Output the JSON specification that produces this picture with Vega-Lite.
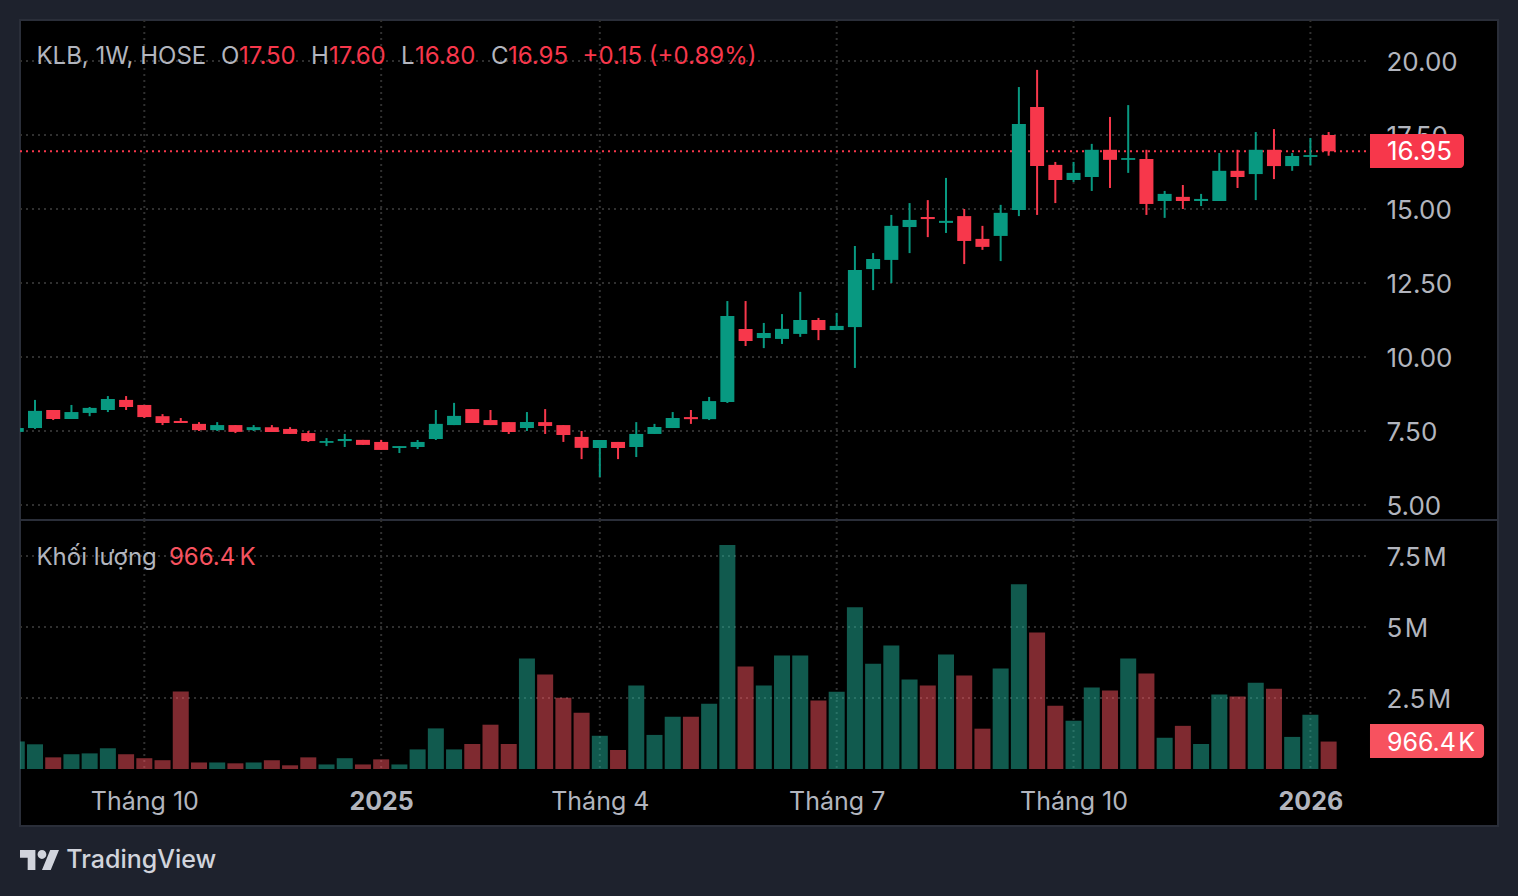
{
  "$schema": "https://vega.github.io/schema/vega-lite/v6.json",
  "description": "KLB, 1W, HOSE: nen tuan va khoi luong",
  "background": "#1e222d",
  "padding": {"left": 18, "top": 18, "right": 19, "bottom": 22},
  "config": {
    "font": "Inter",
    "view": {"fill": "#000000", "stroke": "#2a2e39", "strokeWidth": 2},
    "axis": {"title": null, "domain": false, "ticks": false, "grid": false, "labelColor": "#b2b5be", "labelFontSize": 26, "labelBound": false, "labelFlush": false, "labelOverlap": false}
  },
  "datasets": {
    "bars": [
      {"i":-1,"o":7.47,"h":7.60,"l":7.47,"c":7.60,"v":970000,"dir":"up"},
      {"i":0,"o":7.60,"h":8.55,"l":7.57,"c":8.18,"v":870000,"dir":"up"},
      {"i":1,"o":8.21,"h":8.21,"l":7.87,"c":7.905,"v":410000,"dir":"down"},
      {"i":2,"o":7.905,"h":8.38,"l":7.905,"c":8.14,"v":520000,"dir":"up"},
      {"i":3,"o":8.11,"h":8.31,"l":8.00,"c":8.28,"v":550000,"dir":"up"},
      {"i":4,"o":8.21,"h":8.68,"l":8.14,"c":8.58,"v":730000,"dir":"up"},
      {"i":5,"o":8.55,"h":8.68,"l":8.21,"c":8.31,"v":520000,"dir":"down"},
      {"i":6,"o":8.38,"h":8.38,"l":7.94,"c":7.97,"v":380000,"dir":"down"},
      {"i":7,"o":8.00,"h":8.07,"l":7.70,"c":7.77,"v":310000,"dir":"down"},
      {"i":8,"o":7.84,"h":7.94,"l":7.77,"c":7.77,"v":2730000,"dir":"down"},
      {"i":9,"o":7.74,"h":7.80,"l":7.50,"c":7.53,"v":230000,"dir":"down"},
      {"i":10,"o":7.53,"h":7.80,"l":7.50,"c":7.70,"v":230000,"dir":"up"},
      {"i":11,"o":7.70,"h":7.70,"l":7.43,"c":7.47,"v":200000,"dir":"down"},
      {"i":12,"o":7.53,"h":7.70,"l":7.50,"c":7.63,"v":230000,"dir":"up"},
      {"i":13,"o":7.63,"h":7.70,"l":7.47,"c":7.47,"v":310000,"dir":"down"},
      {"i":14,"o":7.57,"h":7.63,"l":7.40,"c":7.40,"v":130000,"dir":"down"},
      {"i":15,"o":7.43,"h":7.50,"l":7.13,"c":7.16,"v":410000,"dir":"down"},
      {"i":16,"o":7.10,"h":7.26,"l":6.99,"c":7.16,"v":160000,"dir":"up"},
      {"i":17,"o":7.16,"h":7.40,"l":6.96,"c":7.23,"v":380000,"dir":"up"},
      {"i":18,"o":7.20,"h":7.20,"l":7.03,"c":7.03,"v":160000,"dir":"down"},
      {"i":19,"o":7.13,"h":7.20,"l":6.86,"c":6.86,"v":340000,"dir":"down"},
      {"i":20,"o":6.925,"h":6.99,"l":6.755,"c":6.99,"v":160000,"dir":"up"},
      {"i":21,"o":6.96,"h":7.195,"l":6.89,"c":7.13,"v":690000,"dir":"up"},
      {"i":22,"o":7.23,"h":8.21,"l":7.195,"c":7.74,"v":1430000,"dir":"up"},
      {"i":23,"o":7.70,"h":8.45,"l":7.70,"c":8.01,"v":690000,"dir":"up"},
      {"i":24,"o":8.24,"h":8.24,"l":7.77,"c":7.77,"v":880000,"dir":"down"},
      {"i":25,"o":7.87,"h":8.21,"l":7.70,"c":7.70,"v":1560000,"dir":"down"},
      {"i":26,"o":7.80,"h":7.80,"l":7.40,"c":7.465,"v":880000,"dir":"down"},
      {"i":27,"o":7.60,"h":8.14,"l":7.50,"c":7.80,"v":3890000,"dir":"up"},
      {"i":28,"o":7.80,"h":8.24,"l":7.40,"c":7.67,"v":3330000,"dir":"down"},
      {"i":29,"o":7.70,"h":7.70,"l":7.13,"c":7.365,"v":2510000,"dir":"down"},
      {"i":30,"o":7.30,"h":7.50,"l":6.55,"c":6.93,"v":1980000,"dir":"down"},
      {"i":31,"o":6.925,"h":7.195,"l":5.945,"c":7.195,"v":1170000,"dir":"up"},
      {"i":32,"o":7.13,"h":7.13,"l":6.55,"c":6.925,"v":670000,"dir":"down"},
      {"i":33,"o":6.96,"h":7.80,"l":6.62,"c":7.40,"v":2940000,"dir":"up"},
      {"i":34,"o":7.40,"h":7.74,"l":7.40,"c":7.635,"v":1200000,"dir":"up"},
      {"i":35,"o":7.60,"h":8.14,"l":7.60,"c":7.94,"v":1840000,"dir":"up"},
      {"i":36,"o":7.97,"h":8.21,"l":7.74,"c":7.90,"v":1840000,"dir":"down"},
      {"i":37,"o":7.90,"h":8.65,"l":7.87,"c":8.51,"v":2300000,"dir":"up"},
      {"i":38,"o":8.48,"h":11.89,"l":8.445,"c":11.385,"v":7890000,"dir":"up"},
      {"i":39,"o":10.945,"h":11.89,"l":10.37,"c":10.54,"v":3610000,"dir":"down"},
      {"i":40,"o":10.64,"h":11.15,"l":10.30,"c":10.81,"v":2940000,"dir":"up"},
      {"i":41,"o":10.61,"h":11.45,"l":10.44,"c":10.95,"v":4000000,"dir":"up"},
      {"i":42,"o":10.78,"h":12.20,"l":10.68,"c":11.25,"v":4000000,"dir":"up"},
      {"i":43,"o":11.25,"h":11.32,"l":10.57,"c":10.91,"v":2410000,"dir":"down"},
      {"i":44,"o":10.91,"h":11.49,"l":10.91,"c":11.05,"v":2720000,"dir":"up"},
      {"i":45,"o":11.01,"h":13.75,"l":9.63,"c":12.94,"v":5700000,"dir":"up"},
      {"i":46,"o":12.97,"h":13.51,"l":12.26,"c":13.31,"v":3710000,"dir":"up"},
      {"i":47,"o":13.28,"h":14.80,"l":12.50,"c":14.43,"v":4350000,"dir":"up"},
      {"i":48,"o":14.39,"h":15.20,"l":13.51,"c":14.63,"v":3150000,"dir":"up"},
      {"i":49,"o":14.73,"h":15.30,"l":14.05,"c":14.66,"v":2940000,"dir":"down"},
      {"i":50,"o":14.53,"h":16.05,"l":14.19,"c":14.60,"v":4030000,"dir":"up"},
      {"i":51,"o":14.76,"h":15.00,"l":13.14,"c":13.92,"v":3290000,"dir":"down"},
      {"i":52,"o":13.99,"h":14.43,"l":13.62,"c":13.72,"v":1420000,"dir":"down"},
      {"i":53,"o":14.09,"h":15.14,"l":13.24,"c":14.87,"v":3540000,"dir":"up"},
      {"i":54,"o":14.97,"h":19.12,"l":14.76,"c":17.87,"v":6510000,"dir":"up"},
      {"i":55,"o":18.45,"h":19.70,"l":14.80,"c":16.45,"v":4810000,"dir":"down"},
      {"i":56,"o":16.49,"h":16.59,"l":15.20,"c":15.98,"v":2230000,"dir":"down"},
      {"i":57,"o":15.98,"h":16.59,"l":15.91,"c":16.22,"v":1700000,"dir":"up"},
      {"i":58,"o":16.08,"h":17.20,"l":15.61,"c":17.00,"v":2870000,"dir":"up"},
      {"i":59,"o":17.00,"h":18.11,"l":15.71,"c":16.66,"v":2760000,"dir":"down"},
      {"i":60,"o":16.66,"h":18.51,"l":16.22,"c":16.72,"v":3890000,"dir":"up"},
      {"i":61,"o":16.69,"h":17.00,"l":14.80,"c":15.17,"v":3360000,"dir":"down"},
      {"i":62,"o":15.27,"h":15.61,"l":14.70,"c":15.51,"v":1100000,"dir":"up"},
      {"i":63,"o":15.41,"h":15.81,"l":15.00,"c":15.27,"v":1520000,"dir":"down"},
      {"i":64,"o":15.27,"h":15.51,"l":15.10,"c":15.34,"v":880000,"dir":"up"},
      {"i":65,"o":15.27,"h":16.89,"l":15.27,"c":16.29,"v":2620000,"dir":"up"},
      {"i":66,"o":16.29,"h":17.00,"l":15.71,"c":16.08,"v":2550000,"dir":"down"},
      {"i":67,"o":16.18,"h":17.60,"l":15.30,"c":17.00,"v":3040000,"dir":"up"},
      {"i":68,"o":17.00,"h":17.70,"l":16.01,"c":16.45,"v":2830000,"dir":"down"},
      {"i":69,"o":16.45,"h":16.89,"l":16.29,"c":16.79,"v":1130000,"dir":"up"},
      {"i":70,"o":16.76,"h":17.40,"l":16.48,"c":16.82,"v":1910000,"dir":"up"},
      {"i":71,"o":17.50,"h":17.60,"l":16.80,"c":16.95,"v":966400,"dir":"down"}
    ],
    "monthTicks": [{"i":6},{"i":19},{"i":31},{"i":44},{"i":57},{"i":70}],
    "priceTicks": [{"p":5},{"p":7.5},{"p":10},{"p":12.5},{"p":15},{"p":17.5},{"p":20}],
    "volTicks": [{"q":2500000},{"q":5000000},{"q":7500000}]
  },
  "spacing": 0,
  "bounds": "flush",
  "resolve": {"scale": {"color": "independent"}},
  "vconcat": [
    {
      "width": 1478,
      "height": 500,
      "layer": [
        {
          "data": {"name": "monthTicks"},
          "mark": {"type": "rule", "color": "#303030", "strokeWidth": 2, "strokeDash": [2, 4]},
          "encoding": {
            "x": {"field": "i", "type": "quantitative", "scale": {"domain": [-0.823, 80.296], "nice": false, "zero": false, "padding": 0}, "axis": null}
          }
        },
        {
          "data": {"name": "priceTicks"},
          "mark": {"type": "rule", "color": "#303030", "strokeWidth": 2, "strokeDash": [2, 4]},
          "encoding": {
            "x": {"datum": -0.823, "type": "quantitative", "scale": {"domain": [-0.823, 80.296], "nice": false, "zero": false, "padding": 0}, "axis": null},
            "x2": {"datum": 73.11},
            "y": {"field": "p", "type": "quantitative", "scale": {"domain": [4.493, 21.385], "nice": false, "zero": false},
              "axis": {"orient": "right", "values": [5, 7.5, 10, 12.5, 15, 17.5, 20], "format": ".2f", "labelAlign": "left", "labelPadding": -112, "labelOffset": 2}}
          }
        },
        {
          "data": {"values": [{"p": 16.95}]},
          "mark": {"type": "rule", "color": "#f7374b", "strokeWidth": 2, "strokeDash": [2, 4]},
          "encoding": {
            "x": {"datum": -0.823, "type": "quantitative", "scale": {"domain": [-0.823, 80.296], "nice": false, "zero": false, "padding": 0}, "axis": null},
            "x2": {"datum": 73.11},
            "y": {"field": "p", "type": "quantitative", "scale": {"domain": [4.493, 21.385], "nice": false, "zero": false}}
          }
        },
        {
          "data": {"name": "bars"},
          "mark": {"type": "rule", "strokeWidth": 2, "clip": true},
          "encoding": {
            "x": {"field": "i", "type": "quantitative", "scale": {"domain": [-0.823, 80.296], "nice": false, "zero": false, "padding": 0}, "axis": null},
            "y": {"field": "h", "type": "quantitative", "scale": {"domain": [4.493, 21.385], "nice": false, "zero": false}},
            "y2": {"field": "l"},
            "color": {"field": "dir", "type": "nominal", "scale": {"domain": ["up", "down"], "range": ["#089981", "#f7374b"]}, "legend": null}
          }
        },
        {
          "data": {"name": "bars"},
          "mark": {"type": "bar", "width": 14, "clip": true},
          "encoding": {
            "x": {"field": "i", "type": "quantitative", "scale": {"domain": [-0.823, 80.296], "nice": false, "zero": false, "padding": 0}, "axis": null},
            "y": {"field": "o", "type": "quantitative", "scale": {"domain": [4.493, 21.385], "nice": false, "zero": false}},
            "y2": {"field": "c"},
            "color": {"field": "dir", "type": "nominal", "legend": null}
          }
        },
        {
          "data": {"values": [{}]},
          "mark": {"type": "rect", "color": "#f7374b", "cornerRadiusTopRight": 4, "cornerRadiusBottomRight": 4},
          "encoding": {
            "x": {"datum": 73.27, "type": "quantitative", "scale": {"domain": [-0.823, 80.296], "nice": false, "zero": false, "padding": 0}, "axis": null},
            "x2": {"datum": 78.43},
            "y": {"datum": 17.53, "type": "quantitative", "scale": {"domain": [4.493, 21.385], "nice": false, "zero": false}},
            "y2": {"datum": 16.385}
          }
        },
        {
          "data": {"values": [{"t": "16.95"}]},
          "mark": {"type": "text", "align": "left", "baseline": "middle", "fontSize": 26, "color": "#ffffff"},
          "encoding": {
            "x": {"datum": 74.2, "type": "quantitative", "scale": {"domain": [-0.823, 80.296], "nice": false, "zero": false, "padding": 0}, "axis": null},
            "y": {"datum": 16.92, "type": "quantitative", "scale": {"domain": [4.493, 21.385], "nice": false, "zero": false}},
            "text": {"field": "t"}
          }
        },
        {
          "data": {"values": [{"t": "KLB, 1W, HOSE"}]},
          "mark": {"type": "text", "align": "left", "baseline": "middle", "fontSize": 24, "color": "#b2b5be"},
          "encoding": {"x": {"datum": 0.08, "type": "quantitative", "scale": {"domain": [-0.823, 80.296], "nice": false, "zero": false, "padding": 0}, "axis": null}, "y": {"datum": 20.14, "type": "quantitative", "scale": {"domain": [4.493, 21.385], "nice": false, "zero": false}}, "text": {"field": "t"}}
        },
        {
          "data": {"values": [{"t": "O"}]},
          "mark": {"type": "text", "align": "left", "baseline": "middle", "fontSize": 24, "color": "#b2b5be"},
          "encoding": {"x": {"datum": 10.21, "type": "quantitative", "scale": {"domain": [-0.823, 80.296], "nice": false, "zero": false, "padding": 0}, "axis": null}, "y": {"datum": 20.14, "type": "quantitative", "scale": {"domain": [4.493, 21.385], "nice": false, "zero": false}}, "text": {"field": "t"}}
        },
        {
          "data": {"values": [{"t": "17.50"}]},
          "mark": {"type": "text", "align": "left", "baseline": "middle", "fontSize": 24, "color": "#f7374b"},
          "encoding": {"x": {"datum": 11.2, "type": "quantitative", "scale": {"domain": [-0.823, 80.296], "nice": false, "zero": false, "padding": 0}, "axis": null}, "y": {"datum": 20.14, "type": "quantitative", "scale": {"domain": [4.493, 21.385], "nice": false, "zero": false}}, "text": {"field": "t"}}
        },
        {
          "data": {"values": [{"t": "H"}]},
          "mark": {"type": "text", "align": "left", "baseline": "middle", "fontSize": 24, "color": "#b2b5be"},
          "encoding": {"x": {"datum": 15.15, "type": "quantitative", "scale": {"domain": [-0.823, 80.296], "nice": false, "zero": false, "padding": 0}, "axis": null}, "y": {"datum": 20.14, "type": "quantitative", "scale": {"domain": [4.493, 21.385], "nice": false, "zero": false}}, "text": {"field": "t"}}
        },
        {
          "data": {"values": [{"t": "17.60"}]},
          "mark": {"type": "text", "align": "left", "baseline": "middle", "fontSize": 24, "color": "#f7374b"},
          "encoding": {"x": {"datum": 16.14, "type": "quantitative", "scale": {"domain": [-0.823, 80.296], "nice": false, "zero": false, "padding": 0}, "axis": null}, "y": {"datum": 20.14, "type": "quantitative", "scale": {"domain": [4.493, 21.385], "nice": false, "zero": false}}, "text": {"field": "t"}}
        },
        {
          "data": {"values": [{"t": "L"}]},
          "mark": {"type": "text", "align": "left", "baseline": "middle", "fontSize": 24, "color": "#b2b5be"},
          "encoding": {"x": {"datum": 20.09, "type": "quantitative", "scale": {"domain": [-0.823, 80.296], "nice": false, "zero": false, "padding": 0}, "axis": null}, "y": {"datum": 20.14, "type": "quantitative", "scale": {"domain": [4.493, 21.385], "nice": false, "zero": false}}, "text": {"field": "t"}}
        },
        {
          "data": {"values": [{"t": "16.80"}]},
          "mark": {"type": "text", "align": "left", "baseline": "middle", "fontSize": 24, "color": "#f7374b"},
          "encoding": {"x": {"datum": 20.86, "type": "quantitative", "scale": {"domain": [-0.823, 80.296], "nice": false, "zero": false, "padding": 0}, "axis": null}, "y": {"datum": 20.14, "type": "quantitative", "scale": {"domain": [4.493, 21.385], "nice": false, "zero": false}}, "text": {"field": "t"}}
        },
        {
          "data": {"values": [{"t": "C"}]},
          "mark": {"type": "text", "align": "left", "baseline": "middle", "fontSize": 24, "color": "#b2b5be"},
          "encoding": {"x": {"datum": 25.03, "type": "quantitative", "scale": {"domain": [-0.823, 80.296], "nice": false, "zero": false, "padding": 0}, "axis": null}, "y": {"datum": 20.14, "type": "quantitative", "scale": {"domain": [4.493, 21.385], "nice": false, "zero": false}}, "text": {"field": "t"}}
        },
        {
          "data": {"values": [{"t": "16.95"}]},
          "mark": {"type": "text", "align": "left", "baseline": "middle", "fontSize": 24, "color": "#f7374b"},
          "encoding": {"x": {"datum": 25.96, "type": "quantitative", "scale": {"domain": [-0.823, 80.296], "nice": false, "zero": false, "padding": 0}, "axis": null}, "y": {"datum": 20.14, "type": "quantitative", "scale": {"domain": [4.493, 21.385], "nice": false, "zero": false}}, "text": {"field": "t"}}
        },
        {
          "data": {"values": [{"t": "+0.15 (+0.89%)"}]},
          "mark": {"type": "text", "align": "left", "baseline": "middle", "fontSize": 24, "color": "#f7374b"},
          "encoding": {"x": {"datum": 30.05, "type": "quantitative", "scale": {"domain": [-0.823, 80.296], "nice": false, "zero": false, "padding": 0}, "axis": null}, "y": {"datum": 20.14, "type": "quantitative", "scale": {"domain": [4.493, 21.385], "nice": false, "zero": false}}, "text": {"field": "t"}}
        }
      ]
    },
    {
      "width": 1478,
      "height": 306,
      "layer": [
        {
          "data": {"name": "monthTicks"},
          "mark": {"type": "rule", "color": "#303030", "strokeWidth": 2, "strokeDash": [2, 4]},
          "encoding": {
            "x": {"field": "i", "type": "quantitative", "scale": {"domain": [-0.823, 80.296], "nice": false, "zero": false, "padding": 0},
              "axis": {"orient": "bottom", "values": [6, 19, 31, 44, 57, 70], "labelBaseline": "middle", "labelFontSize": 25, "labelPadding": -25,
                "labelExpr": "datum.value === 19 ? '2025' : datum.value === 70 ? '2026' : datum.value === 31 ? 'Tháng 4' : datum.value === 44 ? 'Tháng 7' : 'Tháng 10'",
                "labelFontWeight": {"condition": {"test": "datum.value === 19 || datum.value === 70", "value": "bold"}, "value": "normal"}}},
            "y": {"datum": 8768000, "type": "quantitative", "scale": {"domain": [-2007000, 8768000], "nice": false, "zero": false},
              "axis": {"orient": "right", "values": [2500000, 5000000, 7500000], "labelAlign": "left", "labelPadding": -112, "labelOffset": 1,
                "labelExpr": "datum.value === 2500000 ? '2.5\u200aM' : datum.value === 5000000 ? '5\u200aM' : '7.5\u200aM'"}},
            "y2": {"datum": -20000}
          }
        },
        {
          "data": {"name": "volTicks"},
          "mark": {"type": "rule", "color": "#303030", "strokeWidth": 2, "strokeDash": [2, 4]},
          "encoding": {
            "x": {"datum": -0.823, "type": "quantitative", "scale": {"domain": [-0.823, 80.296], "nice": false, "zero": false, "padding": 0}},
            "x2": {"datum": 73.11},
            "y": {"field": "q", "type": "quantitative", "scale": {"domain": [-2007000, 8768000], "nice": false, "zero": false}}
          }
        },
        {
          "data": {"name": "bars"},
          "mark": {"type": "bar", "width": 16, "opacity": 0.5, "clip": true},
          "encoding": {
            "x": {"field": "i", "type": "quantitative", "scale": {"domain": [-0.823, 80.296], "nice": false, "zero": false, "padding": 0}},
            "y": {"field": "v", "type": "quantitative", "scale": {"domain": [-2007000, 8768000], "nice": false, "zero": false}},
            "y2": {"datum": 0},
            "color": {"field": "dir", "type": "nominal", "scale": {"domain": ["up", "down"], "range": ["#22b49c", "#fe5460"]}, "legend": null}
          }
        },
        {
          "data": {"values": [{}]},
          "mark": {"type": "rect", "color": "#f7525f", "cornerRadiusTopRight": 4, "cornerRadiusBottomRight": 4},
          "encoding": {
            "x": {"datum": 73.27, "type": "quantitative", "scale": {"domain": [-0.823, 80.296], "nice": false, "zero": false, "padding": 0}},
            "x2": {"datum": 79.53},
            "y": {"datum": 1585000, "type": "quantitative", "scale": {"domain": [-2007000, 8768000], "nice": false, "zero": false}},
            "y2": {"datum": 387000}
          }
        },
        {
          "data": {"values": [{"t": "966.4\u200aK"}]},
          "mark": {"type": "text", "align": "left", "baseline": "middle", "fontSize": 25, "color": "#ffffff"},
          "encoding": {"x": {"datum": 74.2, "type": "quantitative", "scale": {"domain": [-0.823, 80.296], "nice": false, "zero": false, "padding": 0}}, "y": {"datum": 930000, "type": "quantitative", "scale": {"domain": [-2007000, 8768000], "nice": false, "zero": false}}, "text": {"field": "t"}}
        },
        {
          "data": {"values": [{"t": "Khối lượng"}]},
          "mark": {"type": "text", "align": "left", "baseline": "middle", "fontSize": 24, "color": "#b2b5be"},
          "encoding": {"x": {"datum": 0.08, "type": "quantitative", "scale": {"domain": [-0.823, 80.296], "nice": false, "zero": false, "padding": 0}}, "y": {"datum": 7420000, "type": "quantitative", "scale": {"domain": [-2007000, 8768000], "nice": false, "zero": false}}, "text": {"field": "t"}}
        },
        {
          "data": {"values": [{"t": "966.4\u2009K"}]},
          "mark": {"type": "text", "align": "left", "baseline": "middle", "fontSize": 24, "color": "#f7525f"},
          "encoding": {"x": {"datum": 7.35, "type": "quantitative", "scale": {"domain": [-0.823, 80.296], "nice": false, "zero": false, "padding": 0}}, "y": {"datum": 7420000, "type": "quantitative", "scale": {"domain": [-2007000, 8768000], "nice": false, "zero": false}}, "text": {"field": "t"}}
        },
        {
          "data": {"values": [{"t": "TradingView"}]},
          "mark": {"type": "text", "align": "left", "baseline": "middle", "fontSize": 25, "fontWeight": 500, "color": "#d1d4dc"},
          "encoding": {"x": {"datum": 1.72, "type": "quantitative", "scale": {"domain": [-0.823, 80.296], "nice": false, "zero": false, "padding": 0}}, "y": {"datum": -3204000, "type": "quantitative", "scale": {"domain": [-2007000, 8768000], "nice": false, "zero": false}}, "text": {"field": "t"}}
        },
        {
          "data": {"values": [{}]},
          "mark": {"type": "point", "filled": true, "opacity": 1, "size": 1521, "color": "#d1d4dc",
            "shape": "M-0.211,0.507L-0.606,0.507L-0.606,-0.113L-1,-0.113L-1,-0.507L-0.211,-0.507ZM0.577,0.507L0.127,0.507L0.549,-0.507L1,-0.507ZM-0.098,-0.282a0.225,0.225 0 1,0 0.45,0a0.225,0.225 0 1,0 -0.45,0Z"},
          "encoding": {"x": {"datum": 0.247, "type": "quantitative", "scale": {"domain": [-0.823, 80.296], "nice": false, "zero": false, "padding": 0}}, "y": {"datum": -3204000, "type": "quantitative", "scale": {"domain": [-2007000, 8768000], "nice": false, "zero": false}}}
        }
      ]
    }
  ]
}
